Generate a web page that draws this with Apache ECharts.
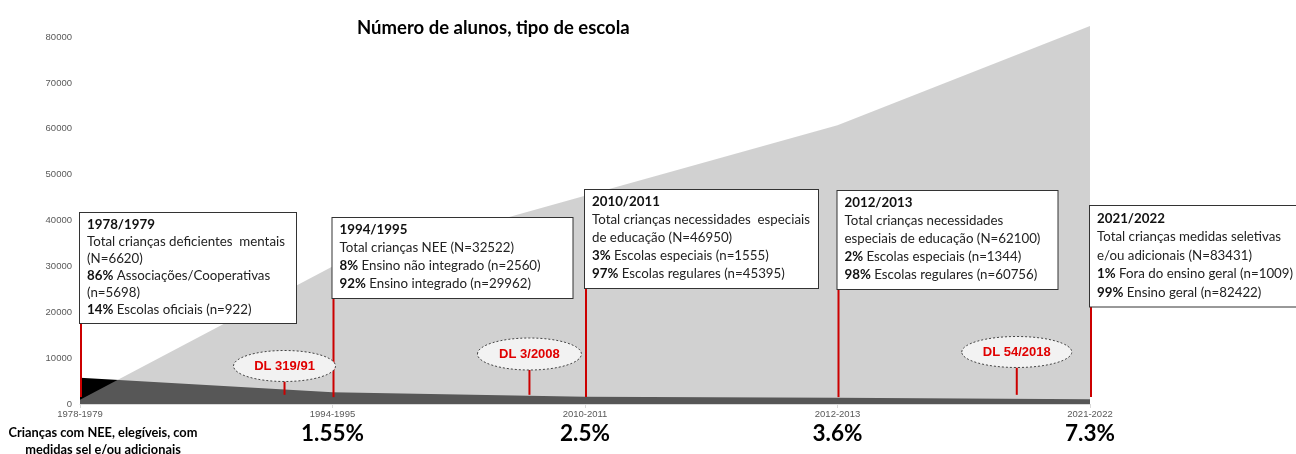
<!DOCTYPE html>
<html><head><meta charset="utf-8">
<script src="https://cdn.jsdelivr.net/npm/echarts@6/dist/echarts.min.js"></script>
<style>html,body{margin:0;padding:0;background:#fff}#c{width:1296px;height:454px}</style>
</head><body><div id="c"></div>
<script>
// ---- data ----
const chartTitle = 'Número de alunos, tipo de escola';
const categories = ['1978-1979', '1994-1995', '2010-2011', '2012-2013', '2021-2022'];
const specialSchools = [5698, 2560, 1555, 1344, 1009];      // não integrado / escolas especiais
const regularSchools = [922, 29962, 45395, 60756, 82422];   // integrado / escolas regulares
const shareLabels = ['', '1.55%', '2.5%', '3.6%', '7.3%'];
const yInterval = 10000;
const bottomLeftLabel = 'Crianças com NEE, elegíveis, com\nmedidas sel e/ou adicionais';
const decrees = ['DL 319/91', 'DL 3/2008', 'DL 54/2018'];
const boxTexts = [
  ['{h|1978/1979}', 'Total crianças deficientes  mentais', '(N=6620)', '{b|86%} Associações/Cooperativas', '(n=5698)', '{b|14%} Escolas oficiais (n=922)'],
  ['{h|1994/1995}', 'Total crianças NEE (N=32522)', '{b|8%} Ensino não integrado (n=2560)', '{b|92%} Ensino integrado (n=29962)'],
  ['{h|2010/2011}', 'Total crianças necessidades  especiais', 'de educação (N=46950)', '{b|3%} Escolas especiais (n=1555)', '{b|97%} Escolas regulares (n=45395)'],
  ['{h|2012/2013}', 'Total crianças necessidades', 'especiais de educação (N=62100)', '{b|2%} Escolas especiais (n=1344)', '{b|98%} Escolas regulares (n=60756)'],
  ['{h|2021/2022}', 'Total crianças medidas seletivas', 'e/ou adicionais (N=83431)', '{b|1%} Fora do ensino geral (n=1009)', '{b|99%} Ensino geral (n=82422)']
];

// ---- layout (positions / sizes) ----
const boxTop = [213, 218, 190, 191, 206];
const boxWidth = [216, 240, 233, 220, 206];
const boxLineHeight = [17, 18, 18, 18, 18.5];
const decreePos = [0.81, 1.78, 3.71];        // position along category axis
const decreeCy = [366, 354, 352];
const decreeRx = [51, 52, 55];
const decreeRy = [15.5, 16, 15.5];

const FONT = 'Lato, "Open Sans", sans-serif';
const AX = '"Liberation Sans", Arial, sans-serif';
const RED = '#cc0000';

const chart = echarts.init(document.getElementById('c'), null, {renderer: 'canvas'});
chart.setOption({
  animation: false,
  title: {text: chartTitle, left: 352, top: 14,
    textStyle: {fontFamily: FONT, fontSize: 18.5, fontWeight: 'bold', color: '#000'}},
  grid: {left: 80, right: 206, top: 26, bottom: 50, containLabel: false, outerBoundsMode: 'none'},
  xAxis: {
    type: 'category', data: categories, boundaryGap: false,
    axisLine: {lineStyle: {color: '#d9d9d9', width: 1}},
    axisTick: {show: true, length: 4, lineStyle: {color: '#d9d9d9'}},
    axisLabel: {
      margin: 4, interval: 0,
      formatter: (v, i) => shareLabels[i] ? '{a|' + v + '}\n{p|' + shareLabels[i] + '}' : '{a|' + v + '}',
      rich: {
        a: {fontFamily: AX, fontSize: 9.5, color: '#595959', lineHeight: 12},
        p: {fontFamily: FONT, fontSize: 22.5, fontWeight: 'bold', color: '#000', lineHeight: 27}
      }
    }
  },
  yAxis: {
    type: 'value', min: 0, max: Math.max(...regularSchools), interval: yInterval,
    splitLine: {show: false}, axisLine: {show: false}, axisTick: {show: false},
    axisLabel: {showMaxLabel: false, formatter: v => String(v), fontFamily: AX, fontSize: 9.5, color: '#595959', margin: 8}
  },
  series: [
    {name: 'Ensino especial', type: 'line', data: specialSchools, symbol: 'none',
      lineStyle: {width: 0}, areaStyle: {color: '#000000', opacity: 1}, z: 2},
    {name: 'Ensino regular', type: 'line', data: regularSchools, symbol: 'none',
      lineStyle: {width: 0}, areaStyle: {color: 'rgba(166,166,166,0.52)', opacity: 1}, z: 3}
  ]
});

const px = (i, v) => chart.convertToPixel({xAxisIndex: 0, yAxisIndex: 0}, [i, v]);
const xAt = pos => {
  const i = Math.floor(pos), f = pos - i;
  const a = px(i, 0)[0];
  if (f === 0) return a;
  const b = px(i + 1, 0)[0];
  return a + (b - a) * f;
};

const g = [];
boxTexts.forEach((lines, i) => {
  const left = xAt(i);
  const lh = boxLineHeight[i];
  g.push({type: 'line', z: 50, shape: {x1: left + 1, y1: boxTop[i] + 20, x2: left + 1, y2: px(i, 1500)[1]},
    style: {stroke: RED, lineWidth: 2}});
  g.push({type: 'text', z: 60, x: left, y: boxTop[i], style: {
    text: lines.join('\n'), width: boxWidth[i] - 14, padding: [3, 7, 5, 7],
    fontFamily: FONT, fontSize: 13.3, lineHeight: lh, fill: '#222',
    backgroundColor: '#fff', borderColor: '#333', borderWidth: 1,
    rich: {
      h: {fontFamily: FONT, fontSize: 13.3, fontWeight: 'bold', lineHeight: lh, fill: '#111'},
      b: {fontFamily: FONT, fontSize: 13.3, fontWeight: 'bold', lineHeight: lh, fill: '#111'}
    }
  }});
});
decrees.forEach((t, k) => {
  const cx = xAt(decreePos[k]);
  const cy = decreeCy[k];
  g.push({type: 'line', z: 50, shape: {x1: cx, y1: cy + decreeRy[k], x2: cx, y2: px(0, 2000)[1]},
    style: {stroke: RED, lineWidth: 2}});
  g.push({type: 'ellipse', z: 55, shape: {cx: cx, cy: cy, rx: decreeRx[k], ry: decreeRy[k]},
    style: {fill: '#f2f2f2', stroke: '#444', lineWidth: 1, lineDash: [2, 2]}});
  g.push({type: 'text', z: 56, x: cx, y: cy, style: {text: t, align: 'center', verticalAlign: 'middle',
    fontFamily: AX, fontSize: 13, fontWeight: 'bold', fill: '#e00000'}});
});
g.push({type: 'text', z: 60, x: 103, y: 424, style: {text: bottomLeftLabel, align: 'center',
  fontFamily: FONT, fontSize: 12.8, fontWeight: 'bold', lineHeight: 17, fill: '#000'}});
chart.setOption({graphic: g});
</script>
</body></html>
